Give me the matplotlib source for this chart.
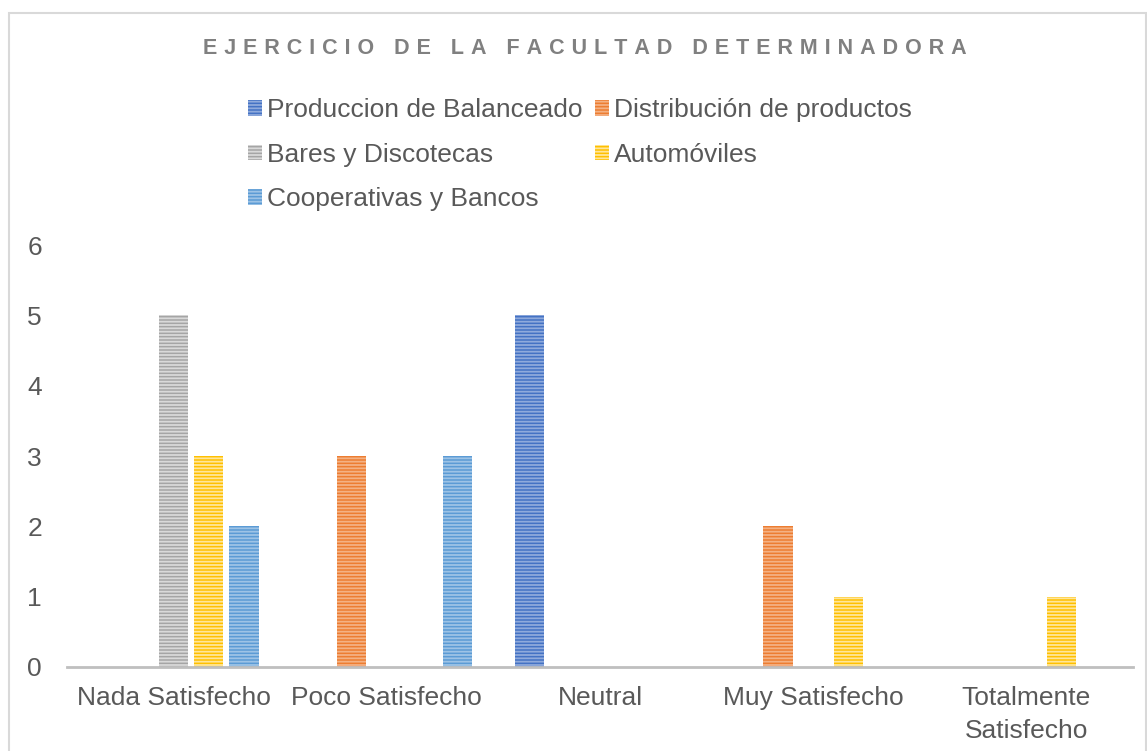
import matplotlib
matplotlib.use("Agg")
import matplotlib.pyplot as plt
import numpy as np
from matplotlib.patches import Rectangle

plt.rcParams['font.family'] = ['Liberation Sans', 'DejaVu Sans']
plt.rcParams['hatch.linewidth'] = 1.3

categories = ["Nada Satisfecho", "Poco Satisfecho", "Neutral", "Muy Satisfecho", "Totalmente\nSatisfecho"]
series_names = ["Produccion de Balanceado", "Distribución de productos", "Bares y Discotecas",
                "Automóviles", "Cooperativas y Bancos"]
produccion = [0, 0, 5, 0, 0]
distribucion = [0, 3, 0, 2, 0]
bares = [5, 0, 0, 0, 0]
automoviles = [3, 0, 0, 1, 1]
cooperativas = [2, 3, 0, 0, 0]
yticks = [0, 1, 2, 3, 4, 5, 6]
title = "EJERCICIO DE LA FACULTAD DETERMINADORA"

colors = ["#4472C4", "#ED7D31", "#A5A5A5", "#FFC000", "#5B9BD5"]
hatch_colors = ["#8FAADC", "#F4B183", "#D9D9D9", "#FFE699", "#9DC3E6"]
text_color = "#595959"

fig = plt.figure(figsize=(11.47, 7.51), dpi=100)
fig.patches.append(Rectangle((9/1147, -0.1), (1146-9)/1147, 1 - 13/751 + 0.1,
                             transform=fig.transFigure, fill=False,
                             edgecolor="#D9D9D9", linewidth=1.5))
ax = fig.add_axes([67/1147, 1 - 667/751, (1133-67)/1147, (667-245)/751])

x = np.arange(len(categories))
data = [produccion, distribucion, bares, automoviles, cooperativas]
step = 0.165
width = 0.137
handles = []
for i, (vals, c, hc, name) in enumerate(zip(data, colors, hatch_colors, series_names)):
    b = ax.bar(x + (i - 2) * step, vals, width=width, color=c, edgecolor=hc,
               hatch="-----", linewidth=0, label=name)
    handles.append(b)

ax.set_xlim(-0.5, len(categories) - 0.5)
ax.set_ylim(0, 6)
ax.set_yticks(yticks)
ax.set_xticks(x)
ax.set_xticklabels(categories, fontsize=19, color=text_color, linespacing=1.45)
ax.tick_params(axis='y', length=0, labelsize=19, labelcolor=text_color, pad=18)
ax.tick_params(axis='x', length=0, pad=14)
for s in ["top", "right", "left"]:
    ax.spines[s].set_visible(False)
ax.spines["bottom"].set_color("#BFBFBF")
ax.spines["bottom"].set_linewidth(2)

spaced = "\u200a\u200a\u200a\u200a".join(list(title))
fig.text(585/1147, 1 - 49/751, spaced, ha="center", va="center", fontsize=15.5,
         fontweight="bold", color="#808080")

order = [0, 2, 4, 1, 3]
leg = fig.legend([handles[k] for k in order], [series_names[k] for k in order],
                 ncol=2, loc="upper left", bbox_to_anchor=(235/1147, 1 - 85/751),
                 frameon=False, fontsize=19, handlelength=0.53, handleheight=0.53,
                 handletextpad=0.2, columnspacing=0.46, labelspacing=0.78,
                 labelcolor=text_color, borderpad=0)

fig.savefig("out.png", dpi=100)
